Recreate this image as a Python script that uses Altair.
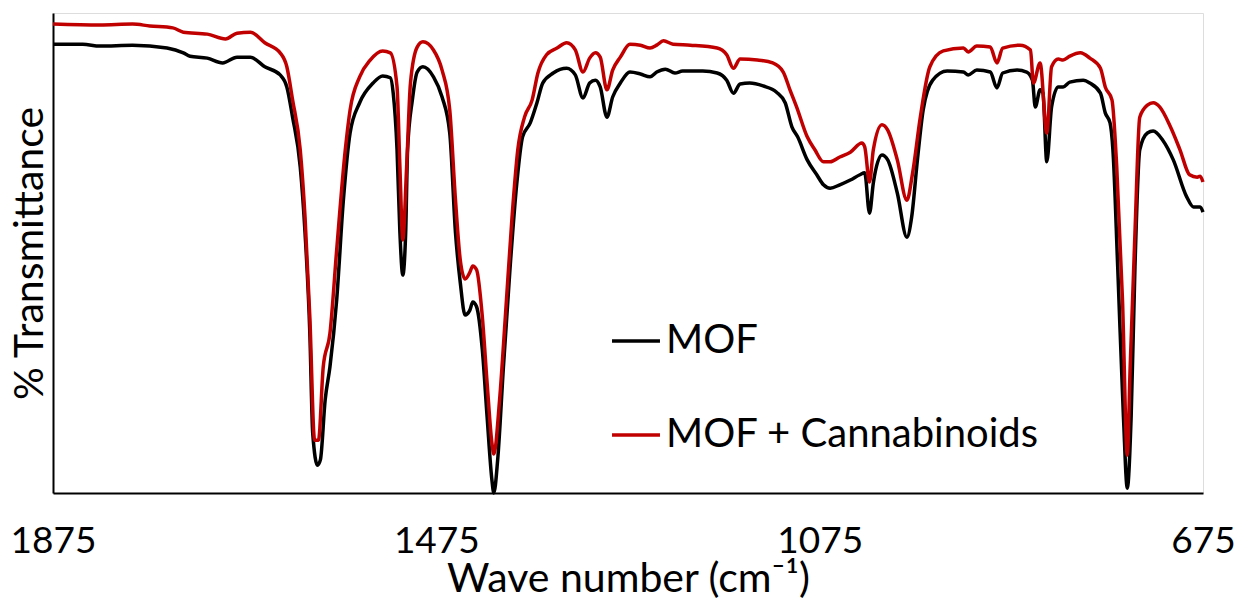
import altair as alt
import pandas as pd

# Wave numbers (cm-1) and % transmittance (arbitrary scale, 0-100)
mof_wn = [1875, 1844, 1826, 1792, 1756, 1739, 1732, 1714, 1698, 1683, 1669, 1654, 1638, 1631,
          1625, 1617, 1612, 1607, 1604, 1599, 1596, 1591, 1586, 1579, 1572, 1565, 1555, 1541,
          1531, 1523, 1520, 1516, 1513, 1510, 1507, 1505, 1500, 1495, 1489, 1478, 1469, 1461,
          1455, 1450, 1445, 1440, 1437, 1433, 1427, 1422, 1417, 1415, 1411, 1405, 1398, 1391,
          1385, 1377, 1370, 1364, 1353, 1339, 1330, 1322, 1315, 1309, 1304, 1297, 1291, 1283,
          1273, 1262, 1252, 1245, 1236, 1226, 1218, 1197, 1182, 1172, 1165, 1158, 1148, 1134,
          1120, 1111, 1104, 1098, 1088, 1078, 1071, 1064, 1054, 1043, 1033, 1028, 1023, 1019,
          1010, 1004, 994, 984, 979, 973, 967, 957, 942, 925, 920, 911, 897, 890, 884, 869,
          859, 853, 850, 845, 842, 838, 833, 826, 821, 814, 800, 793, 782, 777, 772, 769, 764,
          758, 754, 750, 746, 741, 733, 727, 717, 706, 692, 685, 678, 675]
mof_t = [93.5, 93.5, 93.1, 93.3, 92.7, 91.7, 91.0, 90.6, 89.6, 90.8, 90.8, 88.8, 87.1, 84.6,
         78.3, 67.9, 54.2, 33.3, 12.5, 5.8, 6.9, 19.4, 26.3, 40.2, 61.0, 75.0, 81.3, 85.4,
         86.9, 86.5, 83.3, 71.5, 54.2, 45.4, 54.2, 71.5, 81.9, 87.7, 88.8, 86.7, 82.5, 75.0,
         54.2, 43.8, 37.1, 38.1, 39.8, 38.8, 29.8, 15.8, 2.7, 0.0, 6.9, 26.3, 47.1, 64.6,
         74.2, 77.1, 81.3, 85.4, 87.5, 88.5, 87.1, 82.3, 85.4, 86.0, 84.6, 78.3, 82.5, 85.4,
         87.7, 87.3, 86.7, 87.7, 88.3, 87.5, 87.9, 87.9, 87.5, 86.0, 83.3, 85.2, 85.4, 84.8,
         83.5, 81.3, 76.3, 74.2, 69.4, 66.3, 64.2, 63.5, 64.2, 65.2, 66.3, 66.7, 58.3, 64.6,
         70.4, 69.4, 62.5, 53.3, 57.5, 69.4, 79.8, 86.0, 87.9, 87.7, 87.1, 88.1, 87.7, 84.4, 87.5, 88.1,
         87.7, 86.0, 80.4, 84.0, 83.3, 69.0, 80.4, 84.6, 84.6, 85.6, 86.0, 85.4, 83.3, 79.2, 77.1, 71.5, 47.1,
         15.8, 1.0, 15.8, 47.1, 71.5, 75.0, 75.4, 73.5, 69.4, 61.7, 59.6, 59.6, 58.5]

cann_wn = [1875, 1826, 1792, 1774, 1750, 1739, 1714, 1695, 1683, 1669, 1654, 1638, 1631, 1625,
           1617, 1612, 1607, 1602, 1598, 1593, 1586, 1579, 1570, 1565, 1555, 1544, 1531, 1523,
           1516, 1513, 1510, 1506, 1502, 1495, 1489, 1478, 1469, 1461, 1455, 1450, 1445, 1440,
           1437, 1433, 1427, 1422, 1417, 1415, 1409, 1403, 1396, 1390, 1383, 1375, 1369, 1360,
           1349, 1339, 1330, 1322, 1315, 1309, 1304, 1297, 1291, 1283, 1273, 1262, 1252, 1245,
           1238, 1228, 1210, 1182, 1172, 1165, 1158, 1140, 1124, 1113, 1106, 1099, 1088, 1080,
           1071, 1064, 1054, 1043, 1031, 1028, 1023, 1019, 1010, 1004, 994, 984, 978, 970, 960,
           946, 925, 920, 911, 897, 890, 884, 866, 855, 852, 845, 838, 833, 826, 821, 814, 803,
           793, 782, 777, 770, 765, 759, 754, 751, 746, 741, 733, 727, 720, 709, 699, 689, 681,
           678, 675]
cann_t = [97.7, 97.5, 97.7, 97.3, 96.9, 96.0, 95.6, 94.6, 95.8, 96.0, 93.8, 91.7, 88.8, 81.9,
          71.5, 57.5, 36.7, 11.0, 11.0, 26.3, 33.3, 50.6, 71.5, 79.8, 86.7, 90.2, 92.1, 91.7,
          84.6, 67.9, 52.7, 67.9, 85.4, 92.9, 94.0, 92.3, 88.1, 79.8, 61.0, 48.5, 44.6, 46.0,
          47.3, 46.5, 36.7, 22.9, 10.4, 8.1, 19.4, 36.7, 57.5, 71.5, 78.3, 81.9, 87.5, 91.3,
          92.7, 93.8, 92.3, 87.7, 90.6, 91.7, 90.8, 84.0, 88.1, 90.8, 93.5, 93.3, 92.7, 93.3,
          94.2, 93.5, 93.3, 92.7, 91.3, 88.5, 90.4, 90.2, 89.6, 87.7, 84.0, 80.4, 74.2, 71.5,
          69.0, 69.0, 70.0, 71.0, 72.9, 72.1, 64.8, 71.5, 76.7, 75.6, 69.4, 61.0, 66.7, 78.3, 88.8,
          92.1, 92.7, 91.9, 93.1, 92.9, 89.6, 92.7, 93.3, 92.3, 85.4, 89.6, 75.0, 88.8, 90.4, 90.2, 91.0, 91.7,
          90.6, 88.5, 84.6, 81.9, 67.9, 40.2, 7.9, 26.3, 54.2, 78.3, 80.8, 81.3, 80.4, 76.3, 71.5, 66.3, 65.8,
          66.0, 64.8]

series_names = ["MOF", "MOF + Cannabinoids"]
series_colors = ["#000000", "#C00000"]
x_ticks = [1875, 1475, 1075, 675]

df = pd.concat([
    pd.DataFrame({"wn": mof_wn, "t": mof_t, "series": series_names[0]}),
    pd.DataFrame({"wn": cann_wn, "t": cann_t, "series": series_names[1]}),
])

FONT = "Lato"

chart = alt.Chart(df).mark_line(strokeWidth=3.5, interpolate="monotone").encode(
    x=alt.X("wn:Q",
            scale=alt.Scale(domain=[675, 1875], reverse=True, nice=False, zero=False),
            axis=alt.Axis(values=x_ticks, format="d", title="Wave number (cm⁻¹)", grid=False,
                          ticks=False, labelFontSize=37, titleFontSize=41, labelFont=FONT,
                          titleFont=FONT, labelColor="#000000", titleColor="#000000",
                          titleFontWeight="normal", labelPadding=30, titlePadding=0,
                          domainColor="#000000", domainWidth=2, labelFlush=False,
                          labelOverlap=False)),
    y=alt.Y("t:Q",
            scale=alt.Scale(domain=[0, 100], nice=False, zero=False),
            axis=alt.Axis(title="% Transmittance", labels=False, ticks=False, grid=False,
                          titleFontSize=41, titleFont=FONT, titleColor="#000000",
                          titleFontWeight="normal", titlePadding=2, domainColor="#000000",
                          domainWidth=2)),
    color=alt.Color("series:N",
                    scale=alt.Scale(domain=series_names, range=series_colors),
                    legend=alt.Legend(title=None, orient="none", legendX=557, legendY=302,
                                      symbolType="stroke", symbolSize=2300, symbolStrokeWidth=3.5,
                                      labelFontSize=40, labelFont=FONT, labelColor="#000000",
                                      labelLimit=0, rowPadding=48, labelOffset=4, padding=0)),
    order=alt.Order("wn:Q"),
).properties(
    width=1150, height=480,
    autosize=alt.AutoSizeParams(type="none"),
    padding={"left": 53, "top": 13, "right": 32, "bottom": 106},
).configure_view(stroke=None).configure(background="#ffffff")

chart.save("out.html", embed_options={"renderer": "svg", "actions": False})
